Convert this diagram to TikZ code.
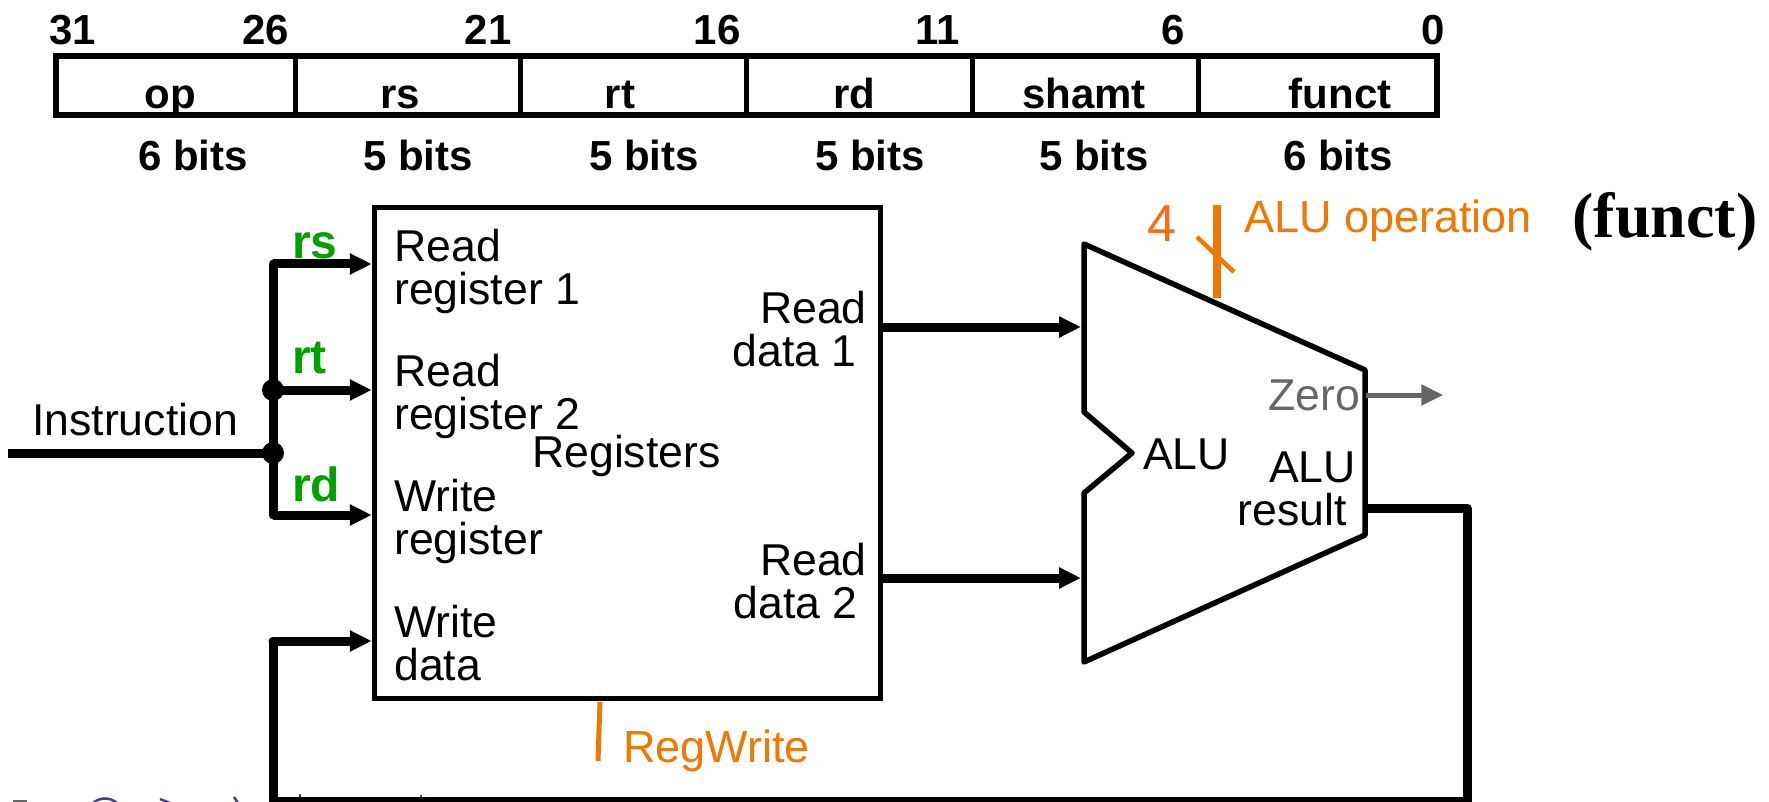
\documentclass[tikz,border=0pt]{standalone}
\usepackage{fontspec}
\setmainfont{Liberation Sans}
\newfontfamily\funcfont{Liberation Serif}
\usepackage{tikz}
\usetikzlibrary{shapes,arrows,arrows.meta}
\definecolor{ctrlorange}{HTML}{F07800}
\definecolor{fourorange}{HTML}{FF6A13}
\definecolor{regsgreen}{HTML}{00A000}
\definecolor{zerogray}{HTML}{666666}
\definecolor{inkpurple}{HTML}{4A3A90}
\tikzstyle{arrow} = [-{Triangle[length=22pt,width=20pt]},line width=9pt]
\tikzstyle{wire} = [line width=9pt, line join=round]
\tikzstyle{field} = [rectangle, draw, line width=5pt, outer sep=0pt, minimum height=59.5pt, inner sep=0pt]
\tikzstyle{bitnum} = [inner sep=0pt, anchor=base, font=\fontsize{42}{42}\selectfont\bfseries]
\tikzstyle{portlabel} = [inner sep=0pt, align=left, anchor=west, font=\fontsize{44.6}{43}\selectfont]
\tikzstyle{readlabel} = [inner sep=0pt, align=right, anchor=east, font=\fontsize{44.6}{43}\selectfont]
\tikzstyle{regname} = [inner sep=0pt, anchor=base west, text=regsgreen, font=\fontsize{48}{48}\selectfont\bfseries]
\tikzstyle{ctrllabel} = [inner sep=0pt, anchor=west, text=ctrlorange, font=\fontsize{45}{45}\selectfont]
\tikzstyle{scribble} = [color=inkpurple, line width=2.5pt]

\begin{document}
\begin{tikzpicture}[x=1pt, y=-1pt, node distance=226pt]
	\useasboundingbox (0,0) rectangle (1769,802);
	% Place fields
	\node (opfield) [field, minimum width=239pt] at (175.5,85.75) {};
	\node (rsfield) [field, minimum width=225pt] at (407.5,85.75) {};
	\node (rtfield) [field, minimum width=226pt, right of=rsfield] {};
	\node (rdfield) [field, minimum width=226pt, right of=rtfield] {};
	\node (shamtfield) [field, minimum width=226pt, right of=rdfield] {};
	\node (functfield) [field, minimum width=239pt] at (1317.5,85.75) {};
	\draw [line width=6pt] (opfield.north west) rectangle (functfield.south east);
	% Bit numbers
	\node (bitA) [bitnum] at (73,45) {31};
	\node (bitB) [bitnum] at (266,45) {26};
	\node (bitC) [bitnum] at (488,45) {21};
	\node (bitD) [bitnum] at (717,45) {16};
	\node (bitE) [bitnum] at (938,45) {11};
	\node (bitF) [bitnum] at (1173,45) {6};
	\node (bitG) [bitnum] at (1433,45) {0};
	% Field names
	\node (opname) [bitnum] at (170,109) {op};
	\node (rsname) [bitnum] at (400,109) {rs};
	\node (rtname) [bitnum] at (620,109) {rt};
	\node (rdname) [bitnum] at (854,109) {rd};
	\node (shamtname) [bitnum] at (1084,109) {shamt};
	\node (functname) [bitnum] at (1340,109) {funct};
	% Field widths
	\node (opbits) [bitnum] at (193,171) {6 bits};
	\node (rsbits) [bitnum] at (418,171) {5 bits};
	\node (rtbits) [bitnum] at (644,171) {5 bits};
	\node (rdbits) [bitnum] at (870,171) {5 bits};
	\node (shamtbits) [bitnum] at (1094,171) {5 bits};
	\node (functbits) [bitnum] at (1338,171) {6 bits};

	% Place register file
	\node (regfile) [rectangle, draw, line width=5pt, minimum width=506.5pt, minimum height=490.5pt] at (627.5,452.75) {};
	\node (readreg1) [portlabel] at (394,271.5) {Read\\register 1};
	\node (readreg2) [portlabel] at (394,396.5) {Read\\register 2};
	\node (writereg) [portlabel] at (394,521.5) {Write\\register};
	\node (writedata) [portlabel] at (394,643) {Write\\data};
	\node (regtitle) [portlabel] at (532,456) {Registers};
	\node (readdata1) [readlabel] at (867,329) {Read\\data 1\hspace*{10pt}};
	\node (readdata2) [readlabel] at (867,581) {Read\\data 2\hspace*{9pt}};
	\node (rslabel) [regname] at (292,259) {rs};
	\node (rtlabel) [regname] at (292,373) {rt};
	\node (rdlabel) [regname] at (292,501) {rd};
	\node (instrlabel) [portlabel] at (32,420) {Instruction};

	% Place ALU
	\coordinate (alutop) at (1084,244);
	\coordinate (aluin1) at (1081,327);
	\coordinate (aluin2) at (1081,578);
	\coordinate (aluzero) at (1366,395);
	\coordinate (aluout) at (1365,508);
	\draw [line width=5.5pt, line join=round] (alutop) -- (1365,370) -- (1365,535) -- (1084,662) -- (1084,493) -- (1132,453) -- (1084,412) -- cycle;
	\node (alutitle) [portlabel] at (1143,454) {ALU};
	\node (zerolabel) [portlabel, anchor=east, text=zerogray] at (1360,395) {Zero};
	\node (aluresult) [readlabel] at (1356,489) {ALU\\result\hspace*{9pt}};
	\node (zeroend) [inner sep=0pt] at (1444,395) {};

	% Place control labels
	\node (aluoplabel) [ctrllabel] at (1244,221) {ALU operation};
	\node (fourlabel) [inner sep=0pt, text=fourorange, font=\fontsize{52}{52}\selectfont] at (1162,224) {4};
	\node (functnote) [inner sep=0pt, font=\funcfont\fontsize{64}{64}\selectfont\bfseries] at (1665,222) {(funct)};
	\node (regwritelabel) [ctrllabel] at (623,751) {RegWrite};
	\coordinate (aluopA) at (1217,205);
	\coordinate (aluopB) at (1217,298);
	\coordinate (slashA) at (1197,237);
	\coordinate (slashB) at (1234,272);
	\coordinate (regwriteA) at (600,702);
	\coordinate (regwriteB) at (598,761);

	% Place wire corners
	\coordinate (instrstart) at (8,453);
	\coordinate (busrs) at (273,264);
	\coordinate (busrt) at (273,390);
	\coordinate (busin) at (273,453);
	\coordinate (busrd) at (273,515);
	\coordinate (loopA) at (1467,508);
	\coordinate (loopB) at (1467,801);
	\coordinate (loopC) at (273,801);
	\coordinate (loopD) at (273,641);

	% Draw arrows
	\draw [arrow] (busrs) -- (regfile.west |- busrs);
	\draw [arrow] (busrt) -- (regfile.west |- busrt);
	\draw [arrow] (busrd) -- (regfile.west |- busrd);
	\draw [wire] (instrstart) -- (busin);
	\draw [wire, line cap=round] (busrs) -- (busrd);
	\fill (busrt) circle (11pt);
	\fill (busin) circle (11pt);
	\draw [arrow] (regfile.east |- aluin1) -- (aluin1);
	\draw [arrow] (regfile.east |- aluin2) -- (aluin2);
	\draw [arrow, line width=5pt, color=zerogray] (aluzero) -- (zeroend);
	\draw [wire] (aluout) -- (loopA) -- (loopB) -- (loopC) -- (loopD);
	\draw [wire, line cap=round] (loopD) -- +(4,0);
	\draw [arrow] (loopD) -- (regfile.west |- loopD);
	\draw [color=ctrlorange, line width=8pt] (aluopA) -- (aluopB);
	\draw [color=ctrlorange, line width=4.5pt] (slashA) -- (slashB);
	\draw [color=ctrlorange, line width=5pt] (regwriteA) -- (regwriteB);

	% Cut off ink at the lower edge
	\draw [scribble] (93,803) .. controls (100,797) and (110,797) .. (117,803);
	\draw [scribble] (160,799) -- (170,803);
	\draw [scribble] (234,797) -- (238,803);
	\draw [scribble] (300,794) -- (300,797);
	\draw [scribble] (421,795) -- (421,797);
	\draw [color=zerogray, line width=3pt] (13,801) -- (27,801);
\end{tikzpicture}
\end{document}
